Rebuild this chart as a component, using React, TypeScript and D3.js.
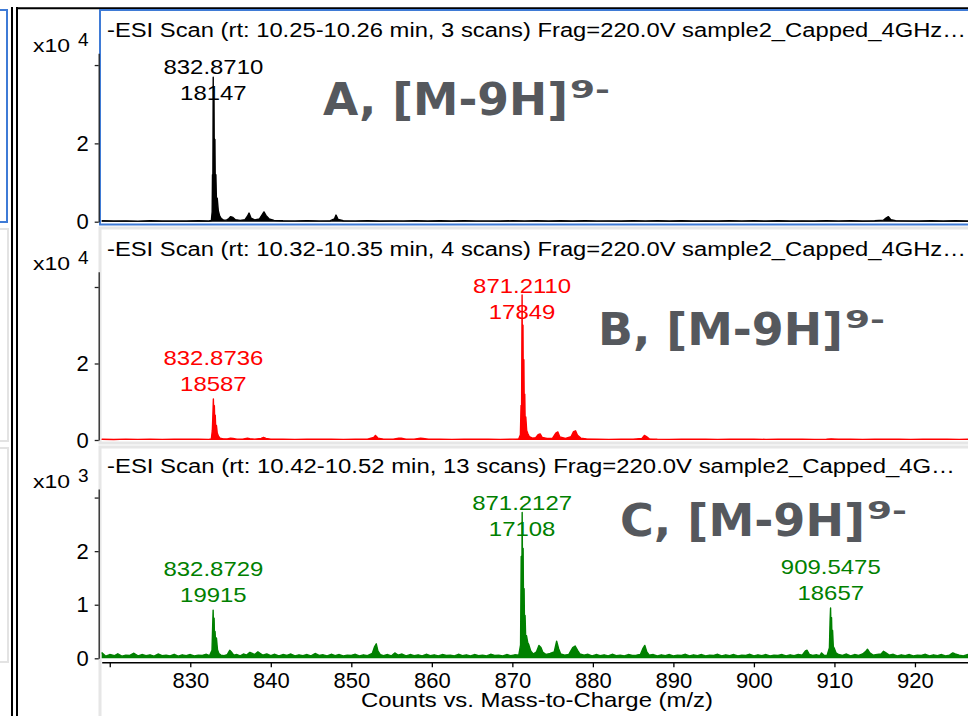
import React, { useEffect, useRef } from 'react';
import * as d3 from 'd3';

type Pt = [number, number];

// scan titles
const titleA = '-ESI Scan (rt: 10.25-10.26 min, 3 scans) Frag=220.0V sample2_Capped_4GHz…';
const titleB = '-ESI Scan (rt: 10.32-10.35 min, 4 scans) Frag=220.0V sample2_Capped_4GHz…';
const titleC = '-ESI Scan (rt: 10.42-10.52 min, 13 scans) Frag=220.0V sample2_Capped_4G…';

// profile spectra, [m/z, counts]
const spectrumA: Pt[] = [
  [819, 250], [820.5, 180], [822, 220], [823.5, 150], [825, 260], [826.5, 170], [828, 200], [829.5, 160],
  [831, 230], [832.3, 180], [832.62, 300], [832.72, 2500], [832.76, 12000], [832.8, 6000], [832.85, 36900],
  [832.9, 9000], [832.95, 31000], [833.0, 7000], [833.06, 21000], [833.12, 5000], [833.18, 12000],
  [833.26, 4500], [833.35, 6000], [833.48, 2800], [833.65, 1500], [833.85, 800], [834.1, 450], [834.5, 400],
  [834.8, 800], [835.0, 1300], [835.3, 1100], [835.6, 500], [836.2, 350], [836.8, 500], [837.1, 1400],
  [837.3, 2200], [837.55, 900], [838.0, 450], [838.6, 700], [838.9, 1700], [839.15, 2500], [839.4, 1600],
  [839.8, 700], [840.4, 350], [841.5, 250], [843, 200], [844.5, 280], [846, 200], [847.4, 260], [847.9, 700],
  [848.1, 1700], [848.35, 600], [849, 250], [850.5, 200], [852, 260], [853.5, 180], [855, 220], [856.5, 200],
  [858, 250], [859.5, 170], [861, 230], [862.5, 180], [864, 260], [865.5, 200], [867, 210], [868.5, 170],
  [870, 240], [871.5, 200], [873, 260], [874.5, 190], [876, 230], [877.5, 170], [879, 250], [880.5, 200],
  [882, 220], [883.5, 170], [885, 240], [886.5, 200], [888, 230], [889.5, 180], [891, 260], [892.5, 190],
  [894, 220], [895.5, 170], [897, 240], [898.5, 200], [900, 230], [901.5, 170], [903, 250], [904.5, 190],
  [906, 220], [907.5, 180], [909, 240], [910.5, 200], [912, 230], [913.5, 170], [915, 260], [916.1, 400],
  [916.45, 1000], [916.7, 1300], [917.0, 500], [917.6, 280], [919, 220], [920.5, 180], [922, 250],
  [923.5, 190], [925, 230], [926.5, 170], [928, 240], [930, 200], [932, 220], [935, 200],
];

const spectrumB: Pt[] = [
  [819, 200], [820.5, 150], [822, 230], [823.5, 170], [825, 210], [826.5, 160], [828, 240], [829.5, 180],
  [831, 210], [832.3, 170], [832.62, 300], [832.74, 2500], [832.8, 6000], [832.87, 10700], [832.93, 5000],
  [832.99, 9000], [833.05, 3500], [833.1, 6500], [833.17, 2500], [833.25, 3800], [833.35, 1800],
  [833.5, 1000], [833.7, 500], [834.1, 300], [834.6, 250], [835.0, 500], [835.3, 400], [835.8, 220],
  [836.5, 200], [837.1, 450], [837.4, 350], [838, 220], [838.8, 400], [839.1, 650], [839.4, 400], [840, 200],
  [841.5, 230], [843, 170], [844.5, 240], [846, 180], [847.5, 220], [849, 160], [850.5, 230], [852, 200],
  [852.8, 700], [853.0, 1200], [853.3, 500], [854, 230], [855.2, 200], [855.9, 500], [856.2, 450],
  [856.8, 200], [857.8, 220], [858.6, 500], [858.9, 400], [859.6, 200], [861, 230], [862.5, 170], [864, 220],
  [865.5, 180], [867, 240], [868.5, 170], [870, 220], [870.8, 300], [871.0, 1400], [871.08, 9000],
  [871.14, 4000], [871.21, 37900], [871.26, 12000], [871.32, 30000], [871.37, 8000], [871.43, 21000],
  [871.49, 5000], [871.54, 12000], [871.6, 3500], [871.67, 6000], [871.78, 2500], [871.92, 1700],
  [872.1, 900], [872.5, 500], [872.9, 600], [873.2, 1400], [873.45, 1600], [873.7, 700], [874.3, 400],
  [875.0, 500], [875.4, 1800], [875.65, 2100], [875.9, 800], [876.6, 400], [877.3, 900], [877.6, 2200],
  [877.85, 2400], [878.1, 1200], [878.5, 500], [879.2, 300], [880.5, 230], [882, 170], [883.5, 220],
  [885, 180], [886.1, 400], [886.4, 1200], [886.65, 900], [887, 300], [888, 220], [889.5, 170], [891, 230],
  [892.5, 190], [894, 210], [895.5, 170], [897, 240], [898.5, 180], [900, 220], [901.5, 160], [903, 230],
  [904.5, 190], [906, 210], [907.5, 170], [909, 240], [909.6, 300], [910.5, 200], [912, 220], [913.5, 170],
  [915, 230], [916.5, 180], [918, 210], [919.5, 170], [921, 240], [922.5, 180], [924, 220], [925.5, 170],
  [927, 230], [930, 200], [935, 210],
];

const spectrumC: Pt[] = [
  [819, 110], [819.5, 40], [820, 70], [820.6, 50], [821, 85], [821.5, 40], [822, 60], [822.5, 55], [823, 95],
  [823.5, 45], [824, 70], [824.5, 50], [825, 65], [825.5, 40], [826, 80], [826.5, 50], [827, 60], [827.5, 45],
  [828, 75], [828.5, 40], [829, 65], [829.5, 50], [830, 70], [830.5, 45], [831, 60], [831.5, 55], [832, 75],
  [832.4, 50], [832.7, 150], [832.78, 600], [832.84, 900], [832.9, 450], [832.96, 750], [833.02, 300],
  [833.08, 500], [833.16, 250], [833.25, 380], [833.38, 160], [833.55, 90], [833.8, 60], [834.2, 50],
  [834.6, 70], [834.9, 150], [835.1, 120], [835.4, 60], [835.8, 70], [836.2, 45], [836.6, 80], [837.0, 60],
  [837.4, 110], [837.7, 90], [838.0, 70], [838.4, 120], [838.7, 90], [839.0, 60], [839.5, 80], [840, 50],
  [840.5, 75], [841, 45], [841.5, 70], [842, 55], [842.5, 80], [843, 45], [843.5, 65], [844, 50], [844.5, 70],
  [845, 45], [845.5, 90], [846, 55], [846.5, 65], [847, 45], [847.5, 75], [848, 50], [848.5, 70], [849, 45],
  [849.5, 60], [850, 55], [850.5, 75], [851, 45], [851.5, 65], [852, 50], [852.6, 90], [852.9, 220],
  [853.1, 270], [853.3, 140], [853.6, 70], [854, 50], [854.5, 70], [855, 45], [855.4, 100], [855.8, 60],
  [856.3, 80], [856.8, 45], [857.3, 70], [857.8, 50], [858.3, 65], [858.8, 45], [859.3, 75], [859.8, 50],
  [860.3, 65], [860.8, 45], [861.3, 70], [861.8, 55], [862.3, 60], [862.8, 45], [863.3, 75], [863.8, 50],
  [864.3, 65], [864.8, 45], [865.3, 70], [865.8, 50], [866.3, 60], [866.8, 45], [867.3, 75], [867.8, 55],
  [868.3, 60], [868.8, 45], [869.3, 70], [869.8, 50], [870.3, 65], [870.8, 60], [871.02, 250], [871.1, 1900],
  [871.16, 700], [871.22, 2720], [871.28, 1100], [871.34, 2050], [871.4, 650], [871.46, 1300], [871.52, 450],
  [871.58, 800], [871.66, 350], [871.76, 420], [871.9, 300], [872.05, 250], [872.3, 130], [872.6, 80],
  [873.0, 120], [873.3, 240], [873.55, 200], [873.8, 110], [874.2, 70], [874.7, 90], [875.2, 120],
  [875.5, 320], [875.75, 180], [876.0, 80], [876.5, 60], [877.0, 70], [877.5, 200], [877.8, 230],
  [878.1, 150], [878.4, 80], [878.9, 60], [879.4, 75], [879.9, 45], [880.4, 70], [880.9, 50], [881.4, 65],
  [881.9, 45], [882.4, 75], [882.9, 50], [883.4, 60], [883.9, 45], [884.4, 70], [884.9, 55], [885.4, 60],
  [885.9, 70], [886.2, 180], [886.45, 240], [886.7, 120], [887.0, 60], [887.5, 70], [888, 45], [888.5, 65],
  [889, 50], [889.5, 70], [890, 45], [890.5, 60], [891, 55], [891.5, 75], [892, 45], [892.5, 65], [893, 50],
  [893.5, 70], [894, 45], [894.5, 60], [895, 55], [895.5, 75], [896, 45], [896.5, 65], [897, 50], [897.5, 70],
  [898, 45], [898.5, 60], [899, 55], [899.5, 75], [900, 45], [900.5, 65], [901, 50], [901.5, 70], [902, 45],
  [902.5, 60], [903, 55], [903.5, 70], [904, 45], [904.5, 65], [905, 50], [905.5, 70], [906, 60],
  [906.4, 140], [906.6, 150], [906.9, 70], [907.3, 55], [907.8, 65], [908.2, 50], [908.4, 100], [908.7, 55],
  [909.1, 60], [909.38, 200], [909.46, 700], [909.52, 940], [909.58, 450], [909.64, 760], [909.7, 300],
  [909.77, 520], [909.86, 220], [910.0, 180], [910.2, 100], [910.5, 70], [911, 55], [911.5, 80], [912, 45],
  [912.5, 70], [913, 55], [913.5, 80], [913.9, 130], [914.1, 170], [914.4, 100], [914.8, 60], [915.3, 70],
  [915.8, 80], [916.1, 130], [916.4, 100], [916.8, 60], [917.3, 75], [917.8, 45], [918.3, 65], [918.8, 50],
  [919.3, 70], [919.8, 45], [920.3, 60], [920.8, 55], [921.3, 75], [921.8, 45], [922.3, 65], [922.8, 50],
  [923.3, 70], [923.8, 45], [924.3, 60], [924.7, 100], [925, 80], [925.5, 60], [926, 45], [926.5, 70],
  [927, 50], [928, 65], [929, 45], [930, 70], [931, 50], [932, 60], [933, 45], [934, 70], [935, 55],
];

// labelled peaks: m/z and resolution
const peaksA = [{ mz: 832.871, res: 18147 }];
const peaksB = [{ mz: 832.8736, res: 18587 }, { mz: 871.211, res: 17849 }];
const peaksC = [{ mz: 832.8729, res: 19915 }, { mz: 871.2127, res: 17108 }, { mz: 909.5475, res: 18657 }];

const yTicksA = [0, 20000, 40000];
const yTicksB = [0, 20000, 40000];
const yTicksC = [0, 1000, 2000, 3000];
const xTicks = [820, 830, 840, 850, 860, 870, 880, 890, 900, 910, 920];

const W = 968;
const H = 716;
const FONT = '"Liberation Sans", Arial, sans-serif';
const TAG_FONT = '"DejaVu Sans", Verdana, sans-serif';
const BLUE = '#3f7bd6';

const panels = [
  { title: titleA, titleLen: 859, data: spectrumA, peaks: peaksA, ticks: yTicksA, unit: 1e4, exp: '4', yMax: 43000,
    color: '#000000', top: 53.3, bottom: 221.7, frameY: 10, frameH: 214.5, frameStroke: BLUE,
    tag: 'A', tagX: 323, tagY: 115 },
  { title: titleB, titleLen: 859, data: spectrumB, peaks: peaksB, ticks: yTicksB, unit: 1e4, exp: '4', yMax: 44000,
    color: '#ff0000', top: 271.7, bottom: 440, frameY: 228, frameH: 215, frameStroke: '#e6e6e6',
    tag: 'B', tagX: 598, tagY: 345 },
  { title: titleC, titleLen: 848, data: spectrumC, peaks: peaksC, ticks: yTicksC, unit: 1e3, exp: '3', yMax: 3160,
    color: '#008000', top: 489, bottom: 658.3, frameY: 447, frameH: 280, frameStroke: '#e6e6e6',
    tag: 'C', tagX: 620, tagY: 536 },
];

const App: React.FC = () => {
  const svgRef = useRef<SVGSVGElement>(null);

  useEffect(() => {
    if (!svgRef.current) return;
    const svg = d3.select(svgRef.current);
    svg.selectAll('*').remove();

    // widen glyphs to match the instrument software's rendering
    const stretch = (sel: any, k: number) =>
      sel.each(function (this: SVGTextElement) {
        const len = this.getComputedTextLength();
        this.setAttribute('textLength', String(len * k));
        this.setAttribute('lengthAdjust', 'spacingAndGlyphs');
      });

    const x = d3.scaleLinear().domain([819, 935]).range([101.7, 101.7 + 116 * 8.052]);

    svg.append('rect').attr('width', W).attr('height', H).attr('fill', '#ffffff');

    // neighbouring panels cut off at the left
    svg.append('rect').attr('x', -10).attr('y', 10).attr('width', 17).attr('height', 212)
      .attr('fill', '#fff').attr('stroke', BLUE).attr('stroke-width', 2);
    svg.append('rect').attr('x', -10).attr('y', 229).attr('width', 18).attr('height', 212)
      .attr('fill', '#fff').attr('stroke', '#e3e3e3').attr('stroke-width', 2);
    svg.append('rect').attr('x', -10).attr('y', 448).attr('width', 18).attr('height', 214)
      .attr('fill', '#fff').attr('stroke', '#e3e3e3').attr('stroke-width', 2);

    // window frame
    svg.append('line').attr('x1', 12).attr('x2', 12).attr('y1', 7).attr('y2', H)
      .attr('stroke', '#000').attr('stroke-width', 2);
    svg.append('line').attr('x1', 17).attr('x2', 17).attr('y1', 7).attr('y2', H)
      .attr('stroke', '#000').attr('stroke-width', 2);
    svg.append('line').attr('x1', 16).attr('x2', W).attr('y1', 8.3).attr('y2', 8.3)
      .attr('stroke', '#000').attr('stroke-width', 2);

    panels.forEach(p => {
      const y = d3.scaleLinear().domain([0, p.yMax]).range([p.bottom, p.top]);

      svg.append('rect').attr('x', 100).attr('y', p.frameY).attr('width', 900).attr('height', p.frameH)
        .attr('fill', '#ffffff').attr('stroke', p.frameStroke).attr('stroke-width', p.frameStroke === BLUE ? 2 : 3);

      // scan title
      svg.append('text')
        .attr('x', 107).attr('y', p.top - 16)
        .attr('textLength', p.titleLen).attr('lengthAdjust', 'spacingAndGlyphs')
        .style('font-family', FONT).style('font-size', '19.5px').style('fill', '#000')
        .text(p.title);

      // exponent label
      svg.append('text').attr('x', 33).attr('y', p.top - 1.5)
        .attr('textLength', 37).attr('lengthAdjust', 'spacingAndGlyphs')
        .style('font-family', FONT).style('font-size', '19px').text('x10');
      svg.append('text').attr('x', 78).attr('y', p.top - 7.5)
        .style('font-family', FONT).style('font-size', '19px').text(p.exp);

      // y axis
      const yAxis = d3.axisLeft(y)
        .tickValues(p.ticks)
        .tickSize(4)
        .tickSizeOuter(0)
        .tickPadding(6)
        .tickFormat((v, i) => (i === p.ticks.length - 1 ? '' : String(+v / p.unit)));
      const gy = svg.append('g').attr('transform', 'translate(98.7,0)').call(yAxis);
      gy.select('.domain').attr('stroke', '#222').attr('stroke-width', 1.3);
      gy.selectAll('.tick line').attr('stroke', '#222').attr('stroke-width', 1.3);
      gy.selectAll('.tick text').style('font-family', FONT).style('font-size', '22px').style('fill', '#000');

      // spectrum: filled profile with an outline
      const area = d3.area<Pt>().x(d => x(d[0])).y0(y(0)).y1(d => y(d[1]));
      const line = d3.line<Pt>().x(d => x(d[0])).y(d => y(d[1]));
      svg.append('path').datum(p.data)
        .attr('d', area)
        .attr('fill', p.color);
      svg.append('path').datum(p.data)
        .attr('d', line)
        .attr('fill', 'none')
        .attr('stroke', p.color)
        .attr('stroke-width', 1.4)
        .attr('stroke-linejoin', 'round');

      // peak annotations
      p.peaks.forEach(pk => {
        const near = p.data.filter(d => Math.abs(d[0] - pk.mz) < 0.4);
        const h = d3.max(near, d => d[1]) ?? 0;
        const base = Math.max(p.top + 47, y(h) - 8);
        const lbl = svg.append('g').style('font-family', FONT).style('font-size', '21px').style('fill', p.color);
        const t1 = lbl.append('text').attr('x', x(pk.mz)).attr('y', base - 26).attr('text-anchor', 'middle')
          .text(pk.mz.toFixed(4));
        const t2 = lbl.append('text').attr('x', x(pk.mz)).attr('y', base).attr('text-anchor', 'middle')
          .text(String(pk.res));
        stretch(t1, 1.14);
        stretch(t2, 1.14);
      });

      // ion tag
      svg.append('text').attr('x', p.tagX).attr('y', p.tagY)
        .attr('textLength', 245).attr('lengthAdjust', 'spacingAndGlyphs')
        .style('font-family', TAG_FONT).style('font-weight', 'bold')
        .style('font-size', '45px').style('fill', '#55585d')
        .text(`${p.tag}, [M-9H]`);
      svg.append('text').attr('x', p.tagX + 247).attr('y', p.tagY - 17)
        .attr('textLength', 40).attr('lengthAdjust', 'spacingAndGlyphs')
        .style('font-family', TAG_FONT).style('font-weight', 'bold')
        .style('font-size', '25px').style('fill', '#55585d')
        .text('9-');
    });

    // shared m/z axis under the last panel
    const xAxis = d3.axisBottom(x)
      .tickValues(xTicks)
      .tickSize(5)
      .tickSizeOuter(0)
      .tickPadding(5)
      .tickFormat(v => (+v === 820 ? '' : String(v)));
    const gx = svg.append('g').attr('transform', 'translate(0,662.3)').call(xAxis);
    gx.select('.domain').attr('stroke', '#000').attr('stroke-width', 1.6);
    gx.selectAll('.tick line').attr('stroke', '#000').attr('stroke-width', 1.3);
    gx.selectAll('.tick text').style('font-family', FONT).style('font-size', '22px').style('fill', '#000');

    svg.append('text').attr('x', 537).attr('y', 707).attr('text-anchor', 'middle')
      .attr('textLength', 352).attr('lengthAdjust', 'spacingAndGlyphs')
      .style('font-family', FONT).style('font-size', '21px').style('fill', '#000')
      .text('Counts vs. Mass-to-Charge (m/z)');
  }, []);

  return (
    <svg ref={svgRef} width={W} height={H} style={{ position: 'absolute', left: 0, top: 0, display: 'block' }} />
  );
};

export default App;
